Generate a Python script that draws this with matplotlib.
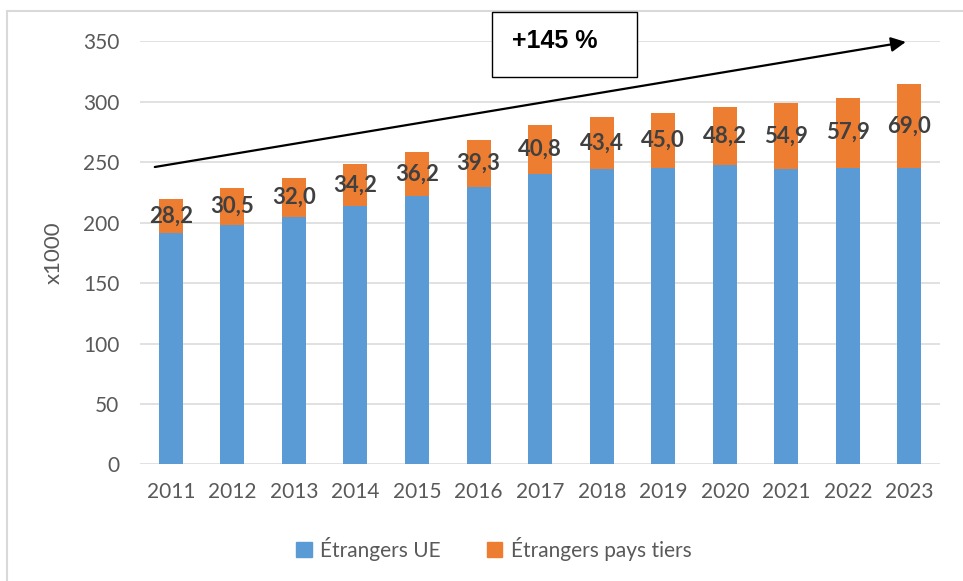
import numpy as np
import matplotlib.pyplot as plt
from matplotlib.patches import Patch, Rectangle

plt.rcParams['font.family'] = ['Lato', 'DejaVu Sans']

years = ['2011', '2012', '2013', '2014', '2015', '2016', '2017',
         '2018', '2019', '2020', '2021', '2022', '2023']
ue = [191.5, 198, 205, 214, 222.3, 229.4, 240.3, 244.5, 245.5, 247.5, 244.5, 245.6, 245.6]
tiers = [28.2, 30.5, 32.0, 34.2, 36.2, 39.3, 40.8, 43.4, 45.0, 48.2, 54.9, 57.9, 69.0]

blue = '#5B9BD5'
orange = '#ED7D31'
grey_txt = '#595959'

fig = plt.figure(figsize=(9.63, 5.81), dpi=100)
ax = fig.add_axes([0.1454, 0.2008, 0.831, 0.7278])

x = np.arange(len(years))
w = 0.39
ax.bar(x, ue, width=w, color=blue, zorder=2)
bars = ax.bar(x, tiers, width=w, bottom=ue, color=orange, zorder=2)

for i, b in enumerate(bars):
    yc = ue[i] + tiers[i] / 2
    ax.text(b.get_x() + b.get_width() / 2, yc, f'{tiers[i]:.1f}'.replace('.', ','),
            ha='center', va='center', fontsize=16, fontweight='bold',
            color='#404040', zorder=3)

ax.set_xlim(-0.5, len(years) - 0.5)
ax.set_ylim(0, 350)
ax.set_yticks(np.arange(0, 351, 50))
ax.set_xticks(x)
ax.set_xticklabels(years)
ax.yaxis.grid(True, color='#D9D9D9', linewidth=1.1, zorder=0)
ax.set_axisbelow(True)
for s in ax.spines.values():
    s.set_visible(False)
ax.tick_params(axis='both', length=0, labelsize=15, colors=grey_txt)
ax.tick_params(axis='y', pad=15)
ax.tick_params(axis='x', pad=13)
ax.set_ylabel('x1000', fontsize=16, color=grey_txt, labelpad=14)

# flèche de tendance
ax.annotate('', xy=(11.94, 349.6), xytext=(-0.26, 246.1),
            arrowprops=dict(arrowstyle='-|>', color='black', lw=1.6,
                            mutation_scale=22, shrinkA=0, shrinkB=0),
            annotation_clip=False, zorder=4)

# encadré +145 %
fig.patches.append(Rectangle((0.5106, 0.867), 0.1512, 0.1124, transform=fig.transFigure,
                             facecolor='white', edgecolor='black', lw=1.0, zorder=5))
fig.text(0.5317, 0.9294, '+145 %', ha='left', va='center', fontsize=18,
         fontweight='bold', family='Liberation Sans', zorder=6)

# bordure du graphique
fig.patches.append(Rectangle((7 / 963, -0.05), 1.1, 1 - 11 / 581 + 0.05,
                             transform=fig.transFigure, fill=False,
                             edgecolor='#D9D9D9', lw=1.5))

handles = [Patch(color=blue, label='Étrangers UE'),
           Patch(color=orange, label='Étrangers pays tiers')]
fig.legend(handles=handles, loc='center', bbox_to_anchor=(0.513, 0.055), ncol=2,
           frameon=False, fontsize=15, handlelength=0.75, handleheight=0.75,
           handletextpad=0.4, columnspacing=2.2, labelcolor=grey_txt)

fig.savefig('out.png', dpi=100)
